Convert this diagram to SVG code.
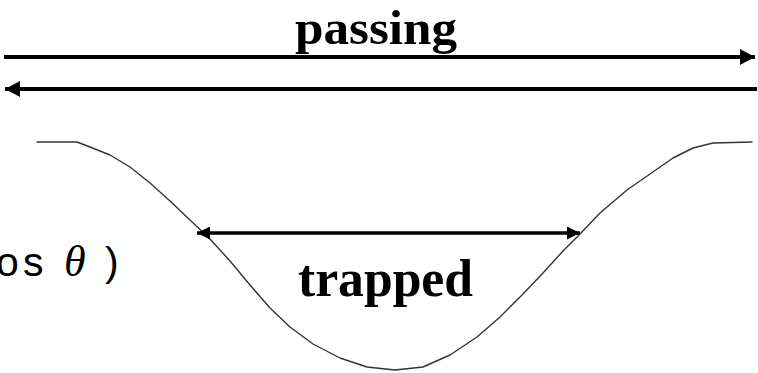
<svg xmlns="http://www.w3.org/2000/svg" width="758" height="373" viewBox="0 0 758 373">
  <style>
    .lbl { font-family: "Liberation Serif", "Times New Roman", serif; font-weight: bold; fill: #000; }
    .math { font-family: "Liberation Sans", Arial, sans-serif; font-size: 41px; fill: #000; }
    .theta { font-family: "Liberation Serif", "Times New Roman", serif; font-style: italic; font-size: 44px; }
    .arrow { stroke: #000; fill: none; }
    .well { stroke: #333; stroke-width: 1.4; fill: none; stroke-linejoin: round; stroke-linecap: round; }
  </style>
  <defs>
    <marker id="headBig" viewBox="0 0 15 16" refX="15" refY="8" markerWidth="15" markerHeight="16" markerUnits="userSpaceOnUse" orient="auto">
      <path d="M0,0 L15,8 L0,16 Z" fill="#000"/>
    </marker>
    <marker id="headSmall" viewBox="0 0 13 13" refX="13" refY="6.5" markerWidth="13" markerHeight="13" markerUnits="userSpaceOnUse" orient="auto">
      <path d="M0,0 L13,6.5 L0,13 Z" fill="#000"/>
    </marker>
  </defs>

  <g id="well">
    <path class="well" d="M37,142 L77,142 L90,147 L110,155 L130,167 L150,183 L170,201 L190,220 L210,239 L230,261 L250,285 L270,308 L290,327 L313,344 L340,358 L367,367 L395,370 L423,367 L450,355 L477,337 L500,317 L523,294 L543,273 L563,251 L580,234 L600,213 L627,190 L650,174 L673,158 L693,148 L713,143 L752,142"/>
  </g>

  <g id="connectors">
    <line class="arrow" x1="4" y1="57" x2="755" y2="57" stroke-width="4" marker-end="url(#headBig)"/>
    <line class="arrow" x1="757" y1="89" x2="5" y2="89" stroke-width="4" marker-end="url(#headBig)"/>
    <line class="arrow" x1="380" y1="233" x2="197" y2="233" stroke-width="3.5" marker-end="url(#headSmall)"/>
    <line class="arrow" x1="380" y1="233" x2="580" y2="233" stroke-width="3.5" marker-end="url(#headSmall)"/>
  </g>

  <g id="passing-label">
    <text class="lbl" x="295" y="44" font-size="48" textLength="162" lengthAdjust="spacingAndGlyphs">passing</text>
  </g>

  <g id="trapped-label">
    <text class="lbl" x="298" y="296" font-size="52" textLength="175" lengthAdjust="spacingAndGlyphs">trapped</text>
  </g>

  <g id="formula">
    <text class="math" y="276"><tspan x="-4">o</tspan><tspan x="23">s</tspan><tspan class="theta" x="64">θ</tspan><tspan x="105">)</tspan></text>
  </g>
</svg>
